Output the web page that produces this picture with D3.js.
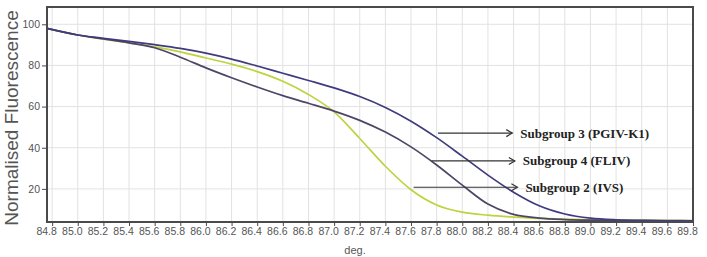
<!DOCTYPE html>
<html>
<head>
<meta charset="utf-8">
<script src="https://cdn.jsdelivr.net/npm/d3@7"></script>
<style>
  body { margin: 0; background: #fff; }
  #chart text { font-family: "Liberation Sans", Arial, sans-serif; }
</style>
</head>
<body>
<div id="chart"></div>
<script>
// melt temperatures (deg.)
var temps = [84.76, 85.0, 85.2, 85.4, 85.6, 85.8, 86.0, 86.2, 86.4, 86.6, 86.8, 87.0, 87.2,
             87.4, 87.6, 87.8, 88.0, 88.2, 88.4, 88.6, 88.8, 89.0, 89.2, 89.4, 89.6, 89.8]

var subgroup3 = [98, 94.8, 93.2, 91.7, 90.1, 88.3, 86.0, 83.1, 79.7, 76.2, 72.7, 69.1, 64.9,
                 59.6, 52.9, 44.9, 35.9, 26.7, 18.4, 11.8, 7.8, 5.8, 5.0, 4.7, 4.6, 4.5]
var subgroup4 = [98, 94.8, 92.9, 91.0, 88.6, 84.0, 78.8, 74.0, 69.5, 65.3, 61.6, 57.8, 53.3,
                 47.6, 40.4, 31.6, 21.8, 12.6, 7.6, 5.8, 5.1, 4.8, 4.7, 4.6, 4.5, 4.5]
var subgroup2 = [98, 94.8, 92.8, 90.9, 89.0, 86.6, 83.6, 80.6, 77.0, 72.3, 65.9, 57.4, 44.5,
                 31.0, 19.6, 12.2, 8.7, 7.2, 6.3, 5.7, 5.3, 5.0, 4.8, 4.7, 4.6, 4.6]

var xTicks = ["84.8", "85.0", "85.2", "85.4", "85.6", "85.8", "86.0", "86.2", "86.4", "86.6",
              "86.8", "87.0", "87.2", "87.4", "87.6", "87.8", "88.0", "88.2", "88.4", "88.6",
              "88.8", "89.0", "89.2", "89.4", "89.6", "89.8"]
var yTicks = [20, 40, 60, 80, 100]

var seriesNames = ["Subgroup 2 (IVS)", "Subgroup 4 (FLIV)", "Subgroup 3 (PGIV-K1)"]
var seriesColors = ["#bfd23f", "#4f4567", "#3e3c7e"]

// arrow labels: [x start, x end, y] in data units
var labelArrows = [[87.62, 88.43, 20.8], [87.76, 88.41, 33.6], [87.81, 88.39, 47.1]]

function create_vis() {
    var width = 707
    var height = 257

    var svg = d3.select("#chart")
        .append("svg")
        .attr("width", width)
        .attr("height", height)

    var x = d3.scaleLinear().domain([84.76, 89.8]).range([47, 693])
    var y = d3.scaleLinear().domain([3.9, 108.4]).range([222, 7])

    // grid
    var grid = svg.append("g")
    grid.selectAll("line.v")
        .data(xTicks)
        .enter().append("line")
        .attr("x1", (d) => x(+d)).attr("x2", (d) => x(+d))
        .attr("y1", y.range()[1]).attr("y2", y.range()[0])
        .attr("stroke", "#e2e2e2")
    grid.selectAll("line.h")
        .data(yTicks)
        .enter().append("line")
        .attr("x1", x.range()[0]).attr("x2", x.range()[1])
        .attr("y1", (d) => y(d)).attr("y2", (d) => y(d))
        .attr("stroke", "#e2e2e2")

    // curves
    var series = [subgroup2, subgroup4, subgroup3]
    var line = d3.line()
        .x((d, i) => x(temps[i]))
        .y((d) => y(d))
        .curve(d3.curveMonotoneX)

    svg.append("g").selectAll("path")
        .data(series)
        .enter().append("path")
        .attr("d", line)
        .attr("fill", "none")
        .attr("stroke", (d, i) => seriesColors[i])
        .attr("stroke-width", 1.7)

    // frame
    svg.append("rect")
        .attr("x", x.range()[0]).attr("y", y.range()[1])
        .attr("width", x.range()[1] - x.range()[0])
        .attr("height", y.range()[0] - y.range()[1])
        .attr("fill", "none")
        .attr("stroke", "#4a4a4a")
        .attr("stroke-width", 2)

    // axes
    var xAxis = svg.append("g")
        .attr("transform", "translate(0," + y.range()[0] + ")")
        .call(d3.axisBottom(x).tickValues(xTicks.map(Number)).tickFormat(d3.format(".1f"))
            .tickSize(4).tickSizeOuter(0))
    xAxis.select(".domain").remove()
    xAxis.selectAll("line").attr("stroke", "#4a4a4a")
    xAxis.selectAll("text")
        .attr("fill", "#555").attr("font-size", "10.5px").attr("dx", -6).attr("dy", "0.55em")

    var yAxis = svg.append("g")
        .attr("transform", "translate(" + x.range()[0] + ",0)")
        .call(d3.axisLeft(y).tickValues(yTicks).tickSize(5).tickSizeOuter(0))
    yAxis.select(".domain").remove()
    yAxis.selectAll("line").attr("stroke", "#4a4a4a")
    yAxis.selectAll("text").attr("fill", "#555").attr("font-size", "10.5px").attr("x", -7)

    svg.append("text")
        .attr("transform", "translate(18,118) rotate(-90)")
        .attr("text-anchor", "middle")
        .attr("fill", "#555")
        .attr("font-size", "19px")
        .text("Normalised Fluorescence")

    svg.append("text")
        .attr("x", 355).attr("y", 254)
        .attr("text-anchor", "middle")
        .attr("fill", "#555")
        .attr("font-size", "11px")
        .text("deg.")

    // annotation arrows
    var ann = svg.append("g").attr("stroke", "#333").attr("stroke-width", 1.2).attr("fill", "none")
    labelArrows.forEach((a) => {
        var x0 = x(a[0]), x1 = x(a[1]), yy = y(a[2])
        ann.append("line").attr("x1", x0).attr("x2", x1).attr("y1", yy).attr("y2", yy)
        ann.append("path").attr("d", "M" + (x1 - 6) + "," + (yy - 3.5) + "L" + x1 + "," + yy + "L" + (x1 - 6) + "," + (yy + 3.5))
    })

    svg.append("g").selectAll("text")
        .data(labelArrows)
        .enter().append("text")
        .attr("x", (d) => x(d[1]) + 8)
        .attr("y", (d) => y(d[2]) + 4.5)
        .attr("fill", "#222")
        .attr("font-size", "13px")
        .attr("font-weight", "bold")
        .style("font-family", "'Liberation Serif', 'Times New Roman', serif")
        .text((d, i) => seriesNames[i])
}

create_vis()
</script>
</body>
</html>
